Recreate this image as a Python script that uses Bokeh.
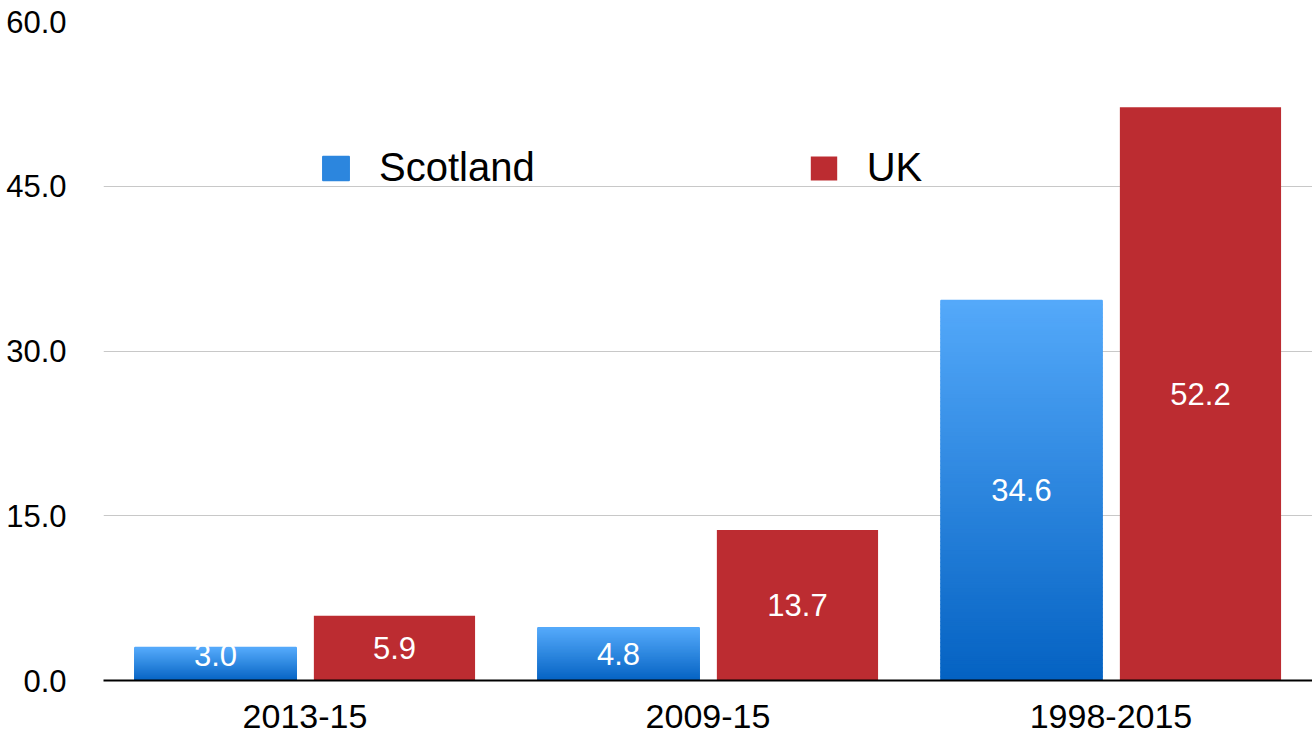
from bokeh.plotting import figure
from bokeh.models import (ColumnDataSource, FactorRange, Range1d, FixedTicker,
                          NumeralTickFormatter, Legend, LegendItem)
from bokeh.transform import dodge
from bokeh.core.properties import value
from bokeh.embed import file_html
from bokeh.resources import INLINE

# ---- data ----
periods = ["2013-15", "2009-15", "1998-2015"]
scotland = [3.0, 4.8, 34.6]
uk = [5.9, 13.7, 52.2]
series_names = ["Scotland", "UK"]
y_ticks = [0, 15, 30, 45, 60]

FONT = "Liberation Sans"
UK_RED = "#BC2C31"
BLUE_TOP = (84, 169, 250)
BLUE_BOTTOM = (4, 98, 194)
N_SLICES = 90

p = figure(width=1312, height=736, output_backend="svg", toolbar_location=None,
           x_range=FactorRange(factors=periods, range_padding=0),
           y_range=Range1d(0, 60))
p.min_border_left = 103
p.min_border_right = 0
p.min_border_top = 21
p.min_border_bottom = 56
p.outline_line_color = None
p.background_fill_color = "white"

# gradient Scotland bars, built as thin slices of each bar
sx, sb, st, sc = [], [], [], []
for cat, v in zip(periods, scotland):
    for k in range(N_SLICES):
        t = (k + 0.5) / N_SLICES
        col = tuple(int(round(b + (a - b) * t)) for a, b in zip(BLUE_TOP, BLUE_BOTTOM))
        sx.append(cat)
        sb.append(v * k / N_SLICES)
        st.append(v * (k + 1) / N_SLICES)
        sc.append("#%02X%02X%02X" % col)
src_s = ColumnDataSource(dict(x=sx, bottom=sb, top=st, color=sc))
r_scot = p.vbar(x=dodge("x", -0.222, range=p.x_range), bottom="bottom", top="top",
                width=0.4, source=src_s, fill_color="color", line_color="color",
                line_width=1.5)

src_u = ColumnDataSource(dict(x=periods, top=uk))
r_uk = p.vbar(x=dodge("x", 0.222, range=p.x_range), top="top", bottom=0, width=0.4,
              source=src_u, fill_color=UK_RED, line_color=None)

# value labels
lab_src = ColumnDataSource(dict(
    x=periods,
    ys=[max(v / 2, 2.3) for v in scotland],
    yu=[max(v / 2, 2.3) for v in uk],
    ts=[f"{v:.1f}" for v in scotland],
    tu=[f"{v:.1f}" for v in uk],
))
for key_y, key_t, off in (("ys", "ts", -0.222), ("yu", "tu", 0.222)):
    p.text(x=dodge("x", off, range=p.x_range), y=key_y, text=key_t, source=lab_src,
           text_color="white", text_font=value(FONT), text_font_size="31px",
           text_align="center", text_baseline="middle")

# axes
p.yaxis.ticker = FixedTicker(ticks=y_ticks)
p.yaxis.formatter = NumeralTickFormatter(format="0.0")
p.yaxis.axis_line_color = None
p.yaxis.major_tick_line_color = None
p.yaxis.minor_tick_line_color = None
p.yaxis.major_label_text_font = FONT
p.yaxis.major_label_text_font_size = "31px"
p.yaxis.major_label_text_color = "black"
p.yaxis.major_label_standoff = 31

p.xaxis.axis_line_color = "black"
p.xaxis.axis_line_width = 2
p.xaxis.major_tick_line_color = None
p.xaxis.minor_tick_line_color = None
p.xaxis.major_label_text_font = FONT
p.xaxis.major_label_text_font_size = "34px"
p.xaxis.major_label_text_color = "black"
p.xaxis.major_label_standoff = 18

p.xgrid.grid_line_color = None
p.ygrid.grid_line_color = "#C8C8C8"
p.ygrid.grid_line_width = 1

legend = Legend(items=[
    LegendItem(label=series_names[0], renderers=[r_scot], index=N_SLICES // 2),
    LegendItem(label=series_names[1], renderers=[r_uk]),
], orientation="horizontal", location=(216, 490))
legend.glyph_width = 33
legend.glyph_height = 30
legend.label_standoff = 27
legend.spacing = 272
legend.padding = 0
legend.margin = 0
legend.border_line_color = None
legend.background_fill_alpha = 0
legend.label_text_font = FONT
legend.label_text_font_size = "40px"
legend.label_text_color = "black"
p.add_layout(legend, "center")

open("out.html", "w").write(file_html(p, INLINE))
